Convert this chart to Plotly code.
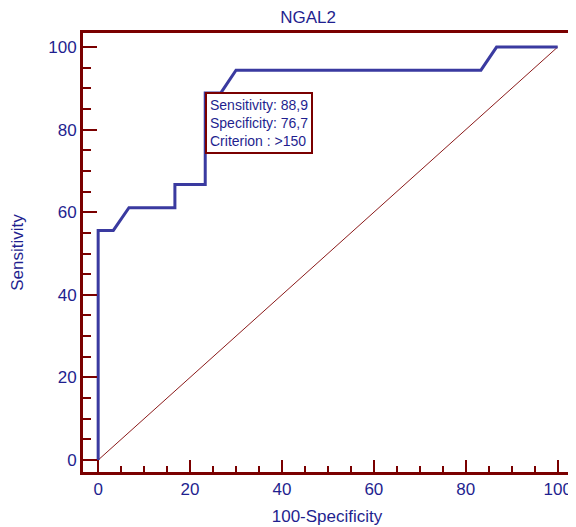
import plotly.graph_objects as go

fpr = [0, 0, 3.3, 6.7, 16.7, 16.7, 23.3, 23.3, 26.7, 30.0, 83.3, 86.7, 100]
tpr = [0, 55.6, 55.6, 61.1, 61.1, 66.7, 66.7, 88.9, 88.9, 94.4, 94.4, 100, 100]
diag_x = [0, 100]
diag_y = [0, 100]
crit_x, crit_y = 23.3, 88.9
crit_text = "Sensitivity: 88,9<br>Specificity: 76,7<br>Criterion : >150"

NAVY = "#1f1f8f"
RED = "#7a0000"
BLUE = "#3a3aa0"
FONT = "Liberation Sans, Arial, sans-serif"

W, H = 568, 519  # page adds an 8px body margin

fig = go.Figure()
fig.add_trace(go.Scatter(x=diag_x, y=diag_y, mode="lines",
                         line=dict(color="#8b1a1a", width=1), hoverinfo="skip"))
fig.add_trace(go.Scatter(x=fpr, y=tpr, mode="lines",
                         line=dict(color=BLUE, width=3)))

fig.add_annotation(x=crit_x, y=crit_y, xref="x", yref="y", text=crit_text,
                   showarrow=False, xanchor="left", yanchor="top", align="left",
                   font=dict(family=FONT, size=14, color=NAVY),
                   bordercolor=RED, borderwidth=2, borderpad=3, bgcolor="white",
                   xshift=0, yshift=1)

axis_common = dict(showline=True, linecolor=RED, linewidth=3, mirror=True,
                   showgrid=False, zeroline=False, ticks="inside",
                   tickcolor=RED, tickwidth=2, automargin=False,
                   tickfont=dict(family=FONT, size=17, color=NAVY),
                   dtick=20, tick0=0)

fig.update_xaxes(range=[-3.3, 102.9], ticklen=12,
                 minor=dict(dtick=5, ticks="inside", ticklen=6, tickcolor=RED, tickwidth=2),
                 title=dict(text="100-Specificity", font=dict(family=FONT, size=17, color=NAVY), standoff=12),
                 **axis_common)
fig.update_yaxes(range=[-2.9, 103.4], ticklen=14,
                 minor=dict(dtick=5, ticks="inside", ticklen=8, tickcolor=RED, tickwidth=2),
                 title=dict(text="Sensitivity", font=dict(family=FONT, size=17, color=NAVY), standoff=23),
                 **axis_common)

fig.update_layout(width=W, height=H, showlegend=False,
                  plot_bgcolor="white", paper_bgcolor="white",
                  margin=dict(l=75, r=5, t=25, b=55),
                  title=dict(text="NGAL2", x=300 / W, xanchor="center", y=1 - 9.5 / H, yanchor="middle",
                             font=dict(family=FONT, size=17, color=NAVY)))

fig.write_html("out.html")
